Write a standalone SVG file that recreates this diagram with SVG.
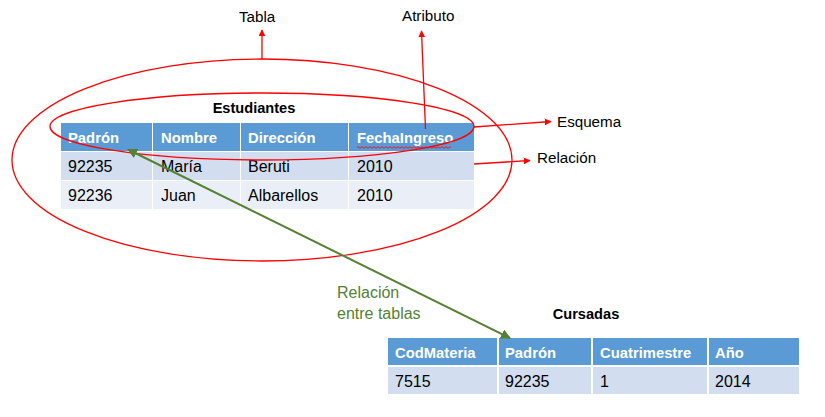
<svg xmlns="http://www.w3.org/2000/svg" width="825" height="417" viewBox="0 0 825 417">
<style>
.hd{fill:#5B9BD5}
.r1{fill:#D2DEEF}
.r2{fill:#EAEFF7}
.ht{font-family:"Liberation Sans",Arial,sans-serif;font-size:14.8px;font-weight:bold;fill:#FFFFFF}
.dt{font-family:"Liberation Sans",Arial,sans-serif;font-size:16px;fill:#000000}
.tt{font-family:"Liberation Sans",Arial,sans-serif;font-size:14.6px;font-weight:bold;fill:#000000;text-anchor:middle}
.lb{font-family:"Liberation Sans",Arial,sans-serif;font-size:15.2px;fill:#000000}
.gt{font-family:"Liberation Sans",Arial,sans-serif;font-size:16px;fill:#538135}
.red{fill:none;stroke:#FF0000;stroke-width:1.3}
.grn{fill:none;stroke:#538135;stroke-width:2}
</style>
<defs>
<marker id="ar" viewBox="0 0 10 10" refX="9" refY="5" markerWidth="7" markerHeight="7" markerUnits="userSpaceOnUse" orient="auto">
<path d="M0,0 L10,5 L0,10 z" fill="#FF0000"/>
</marker>
<marker id="ag" viewBox="0 0 10 10" refX="9" refY="5" markerWidth="5" markerHeight="5" orient="auto-start-reverse">
<path d="M0,0 L10,5 L0,10 z" fill="#538135"/>
</marker>
</defs>

<g id="estudiantes">
<text class="tt" x="254" y="113">Estudiantes</text>
<rect class="hd" x="61" y="123" width="91" height="28"/>
<rect class="hd" x="153" y="123" width="87" height="28"/>
<rect class="hd" x="241" y="123" width="107" height="28"/>
<rect class="hd" x="349" y="123" width="125" height="28"/>
<rect class="r1" x="61" y="152" width="91" height="28"/>
<rect class="r1" x="153" y="152" width="87" height="28"/>
<rect class="r1" x="241" y="152" width="107" height="28"/>
<rect class="r1" x="349" y="152" width="125" height="28"/>
<rect class="r2" x="61" y="181" width="91" height="28"/>
<rect class="r2" x="153" y="181" width="87" height="28"/>
<rect class="r2" x="241" y="181" width="107" height="28"/>
<rect class="r2" x="349" y="181" width="125" height="28"/>
<text class="ht" x="68" y="143">Padrón</text>
<text class="ht" x="161" y="143">Nombre</text>
<text class="ht" x="248" y="143">Dirección</text>
<text class="ht" x="357" y="143">FechaIngreso</text>
<path d="M357,147.5 q1,-1.5 2,0 t2,0 t2,0 t2,0 t2,0 t2,0 t2,0 t2,0 t2,0 t2,0 t2,0 t2,0 t2,0 t2,0 t2,0 t2,0 t2,0 t2,0 t2,0 t2,0 t2,0 t2,0 t2,0 t2,0 t2,0 t2,0 t2,0 t2,0 t2,0 t2,0 t2,0 t2,0 t2,0 t2,0 t2,0 t2,0 t2,0 t2,0 t2,0 t2,0 t2,0 t2,0 t2,0 t2,0 t2,0 t2,0 t2,0" fill="none" stroke="#FF0000" stroke-width="0.8"/>
<text class="dt" x="68" y="172">92235</text>
<text class="dt" x="161" y="172">María</text>
<text class="dt" x="248" y="172">Beruti</text>
<text class="dt" x="357" y="172">2010</text>
<text class="dt" x="68" y="201">92236</text>
<text class="dt" x="161" y="201">Juan</text>
<text class="dt" x="248" y="201">Albarellos</text>
<text class="dt" x="357" y="201">2010</text>
</g>

<g id="cursadas">
<text class="tt" x="586" y="319">Cursadas</text>
<rect class="hd" x="388" y="338" width="109" height="27"/>
<rect class="hd" x="499" y="338" width="92" height="27"/>
<rect class="hd" x="593" y="338" width="114" height="27"/>
<rect class="hd" x="709" y="338" width="90" height="27"/>
<rect class="r1" x="388" y="367" width="109" height="27"/>
<rect class="r1" x="499" y="367" width="92" height="27"/>
<rect class="r1" x="593" y="367" width="114" height="27"/>
<rect class="r1" x="709" y="367" width="90" height="27"/>
<text class="ht" x="395" y="358">CodMateria</text>
<text class="ht" x="505" y="358">Padrón</text>
<text class="ht" x="600" y="358">Cuatrimestre</text>
<text class="ht" x="715" y="358">Año</text>
<text class="dt" x="395" y="387">7515</text>
<text class="dt" x="505" y="387">92235</text>
<text class="dt" x="600" y="387">1</text>
<text class="dt" x="715" y="387">2014</text>
</g>

<g id="tabla-ellipse">
<ellipse class="red" cx="262" cy="160" rx="250" ry="101"/>
</g>
<g id="esquema-ellipse">
<ellipse class="red" cx="262" cy="126.5" rx="212" ry="33.5"/>
</g>

<g id="labels">
<text class="lb" x="239" y="22">Tabla</text>
<text class="lb" x="402" y="21">Atributo</text>
<text class="lb" x="557" y="127">Esquema</text>
<text class="lb" x="537" y="163">Relación</text>
<text class="gt" x="337" y="298">Relación</text>
<text class="gt" x="337" y="319">entre tablas</text>
</g>

<g id="connectors">
<line class="red" x1="262" y1="59" x2="262" y2="30" marker-end="url(#ar)"/>
<line class="red" x1="425.5" y1="129" x2="421.5" y2="31" marker-end="url(#ar)"/>
<line class="red" x1="474" y1="127" x2="551" y2="121.5" marker-end="url(#ar)"/>
<line class="red" x1="474" y1="164" x2="530" y2="160.5" marker-end="url(#ar)"/>
<line class="grn" x1="128" y1="149.5" x2="510" y2="338" marker-start="url(#ag)" marker-end="url(#ag)"/>
</g>
</svg>
